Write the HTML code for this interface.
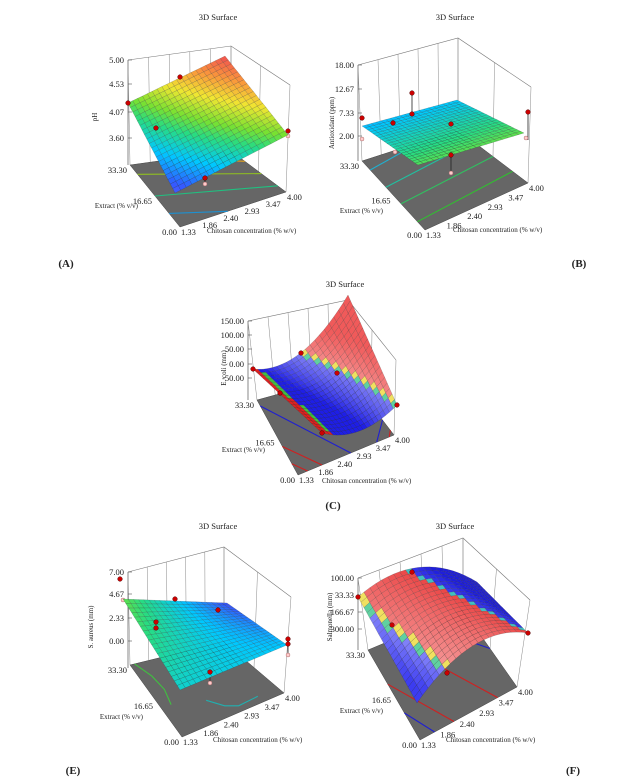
<!DOCTYPE html>
<html><head><meta charset="utf-8"><style>
html,body{margin:0;padding:0;background:#fff}
svg{display:block}
text{font-family:"Liberation Serif",serif;fill:#222}
</style></head><body>
<svg id="s" width="630" height="782" viewBox="0 0 630 782" xmlns="http://www.w3.org/2000/svg">
<text x="218" y="20" font-size="8.5" text-anchor="middle">3D Surface</text>
<text x="455" y="20" font-size="8.5" text-anchor="middle">3D Surface</text>
<text x="345" y="287" font-size="8.5" text-anchor="middle">3D Surface</text>
<text x="218" y="529" font-size="8.5" text-anchor="middle">3D Surface</text>
<text x="455" y="529" font-size="8.5" text-anchor="middle">3D Surface</text>
<text x="66" y="267" font-size="11" font-weight="bold" text-anchor="middle">(A)</text>
<text x="579" y="267" font-size="11" font-weight="bold" text-anchor="middle">(B)</text>
<text x="333" y="509" font-size="11" font-weight="bold" text-anchor="middle">(C)</text>
<text x="73" y="774" font-size="11" font-weight="bold" text-anchor="middle">(E)</text>
<text x="573" y="774" font-size="11" font-weight="bold" text-anchor="middle">(F)</text>
</svg>
<script>
var S=document.getElementById('s'),NS='http://www.w3.org/2000/svg';
function el(n,a,t){var e=document.createElementNS(NS,n);for(var k in a)e.setAttribute(k,a[k]);if(t!==undefined)e.textContent=t;S.appendChild(e);return e;}
function bil(c,s,t){var x=(1-s)*(1-t)*c.FL[0]+s*(1-t)*c.FR[0]+(1-s)*t*c.BL[0]+s*t*c.BR[0];
var y=(1-s)*(1-t)*c.FL[1]+s*(1-t)*c.FR[1]+(1-s)*t*c.BL[1]+s*t*c.BR[1];return [x,y];}
function lerp(a,b,f){return [a[0]+(b[0]-a[0])*f,a[1]+(b[1]-a[1])*f];}
var stops=[[0,[120,90,250]],[0.15,[50,90,255]],[0.3,[0,200,255]],[0.45,[40,220,130]],[0.55,[120,225,50]],[0.7,[240,230,50]],[0.85,[250,150,60]],[1,[240,80,80]]];
function cmap(v){v=Math.max(0,Math.min(1,v));for(var i=1;i<stops.length;i++){if(v<=stops[i][0]){var a=stops[i-1],b=stops[i],f=(v-a[0])/(b[0]-a[0]);
return 'rgb('+[0,1,2].map(function(k){return Math.round(a[1][k]+(b[1][k]-a[1][k])*f)}).join(',')+')';}}return 'rgb(240,80,80)';}
function P(p){return p[0].toFixed(1)+','+p[1].toFixed(1);}
var U=['1.33','1.86','2.40','2.93','3.47','4.00'],V=['0.00','16.65','33.30'];
function panel(c){
 var f=c.floor;
 var BLt=[c.ax,c.top];
 el('polyline',{points:P(BLt)+' '+P(c.BRt)+' '+P(c.FRt),fill:'none',stroke:'#777','stroke-width':0.6});
 el('line',{x1:c.ax,y1:c.top,x2:c.ax,y2:c.bot,stroke:'#555','stroke-width':0.7});
 for(var i=0;i<6;i++){var s=i/5,b=lerp(f.BL,f.BR,s),tp=lerp(BLt,c.BRt,s);el('line',{x1:b[0],y1:b[1],x2:tp[0],y2:tp[1],stroke:'#888','stroke-width':0.5});}
 for(var j=0;j<3;j++){var t=j/2,b=lerp(f.FR,f.BR,t),tp=lerp(c.FRt,c.BRt,t);el('line',{x1:b[0],y1:b[1],x2:tp[0],y2:tp[1],stroke:'#888','stroke-width':0.5});}
 c.z.forEach(function(z){el('line',{x1:c.ax,y1:z[1],x2:c.ax+4,y2:z[1],stroke:'#555','stroke-width':0.6});
  el('text',{x:c.ax-4,y:z[1]+3,'font-size':8.5,'text-anchor':'end'},z[0]);});
 el('polygon',{points:[f.FL,f.FR,f.BR,f.BL].map(P).join(' '),fill:'#666',stroke:'#444','stroke-width':0.5});
 c.cont.forEach(function(L){el('polyline',{points:L.pts.map(function(q){return P(bil(f,q[0],q[1]))}).join(' '),fill:'none',stroke:L.c,'stroke-width':1.1});});
 for(var i=0;i<6;i++){var p=lerp(f.FL,f.FR,i/5);el('text',{x:p[0]+1,y:p[1]+8,'font-size':8.5},U[i]);}
 for(var j=0;j<3;j++){var p=lerp(f.FL,f.BL,j/2);el('text',{x:p[0]-3,y:p[1]+8,'font-size':8.5,'text-anchor':'end'},V[j]);}
 el('text',{x:c.cn[0],y:c.cn[1],'font-size':7},'Chitosan concentration (% w/v)');
 el('text',{x:c.en[0],y:c.en[1],'font-size':7,'text-anchor':'end'},'Extract (% v/v)');
 el('text',{x:c.yn[0],y:c.yn[1],'font-size':7,'text-anchor':'middle',transform:'rotate(-90 '+c.yn[0]+' '+c.yn[1]+')'},c.ylab);
 (c.stems||[]).forEach(function(q){el('line',{x1:q[0],y1:q[1],x2:q[2],y2:q[3],stroke:'#222','stroke-width':0.8});});
 (c.pink||[]).forEach(function(q){el('circle',{cx:q[0],cy:q[1],r:2,fill:'#fcc',stroke:'#a66','stroke-width':0.5});});
 var N=20,sc=c.sc;
 function sp(s,t){var p=bil(sc,s,t);if(c.bulge){var d=c.bulge(s,t);p[0]+=d[0];p[1]+=d[1];}return p;}
 for(var j=N-1;j>=0;j--)for(var i=0;i<N;i++){var s0=i/N,s1=(i+1)/N,t0=j/N,t1=(j+1)/N;
  el('polygon',{points:[sp(s0,t0),sp(s1,t0),sp(s1,t1),sp(s0,t1)].map(P).join(' '),fill:c.col((s0+s1)/2,(t0+t1)/2),stroke:'rgba(40,40,40,0.45)','stroke-width':0.35});}
 (c.dots||[]).forEach(function(q){el('circle',{cx:q[0],cy:q[1],r:2.3,fill:'#c00',stroke:'#500','stroke-width':0.5});});
}
function rgb(a){return 'rgb('+a.map(Math.round).join(',')+')';}
function mix(a,b,f){return [a[0]+(b[0]-a[0])*f,a[1]+(b[1]-a[1])*f,a[2]+(b[2]-a[2])*f];}
// A
panel({floor:{FL:[180,227],FR:[286,192],BL:[130,165],BR:[231,151]},ax:128,top:60,bot:165,BRt:[231,46],FRt:[290,85],
 z:[['5.00',60],['4.53',84],['4.07',112],['3.60',138]],
 cont:[{c:'#1e90d0',pts:[[0,0.22],[0.45,0]]},{c:'#20c080',pts:[[0,0.5],[1,0.15]]},{c:'#90c020',pts:[[0,0.85],[1,0.45]]},{c:'#e0a020',pts:[[0.45,1],[1,0.75]]}],
 cn:[207,233],en:[138,208],yn:[97,117],ylab:'pH',
 sc:{FL:[175,193],FR:[288,135],BL:[128,103],BR:[225,56]},
 col:function(s,t){return cmap(0.1+0.45*s+0.42*t+0.03*s*t);},
 stems:[[205,178,205,184]],
 dots:[[128,103],[180,77],[156,128],[288,131],[205,178]],pink:[[205,184],[288,136]]});
// B
panel({floor:{FL:[425,230],FR:[528,183],BL:[362,161],BR:[458,130]},ax:358,top:65,bot:161,BRt:[458,38],FRt:[531,87],
 z:[['18.00',65],['12.67',89],['7.33',113],['2.00',136]],
 cont:[{c:'#30c030',pts:[[0,0.12],[1,0.22]]},{c:'#30c060',pts:[[0,0.38],[1,0.5]]},{c:'#20c0a0',pts:[[0,0.62],[1,0.78]]},{c:'#20b0d0',pts:[[0,0.87],[0.6,1]]}],
 cn:[453,232],en:[383,213],yn:[334,123],ylab:'Antioxidant (ppm)',
 sc:{FL:[418,165],FR:[524,133],BL:[362,126],BR:[457,100]},
 col:function(s,t){return cmap(0.5-0.22*t+0.02*s);},
 stems:[[412,93,412,114],[451,124,451,173],[528,112,528,140]],
 pink:[[362,139],[395,152],[451,173],[526,138]],
 dots:[[362,118],[393,123],[412,93],[412,114],[451,124],[451,155],[528,112]]});
// C
panel({floor:{FL:[298,475],FR:[394,435],BL:[257,400],BR:[348,375]},ax:248,top:321,bot:400,BRt:[348,300],FRt:[396,360],
 z:[['150.00',321],['100.00',335],['50.00',349],['0.00',364],['-50.00',378]],
 cont:[{c:'#d02020',pts:[[0,0.15],[0.1,0]]},{c:'#d02020',pts:[[0,0.38],[0.25,0]]},{c:'#2020d0',pts:[[0,0.92],[0.55,0]]},{c:'#2020d0',pts:[[0.82,0],[1,0.25]]},{c:'#d02020',pts:[[0.95,0],[1,0.08]]}],
 cn:[322,483],en:[265,452],yn:[226,368],ylab:'E. coli (mm)',
 sc:{FL:[322,433],FR:[397,405],BL:[253,369],BR:[348,295]},
 bulge:function(s,t){return [0,4*s*(1-s)*(21*t+12*(1-t))];},
 col:function(s,t){ var w=0.03+0.1*(1-t); if(s<w) return '#e02020'; if(s<w+0.04) return '#40c040';
   var d=t-2*(1-s);
   if(d>0.06) return rgb(mix([240,90,90],[245,140,140],Math.max(0,1-d*2)));
   if(d>0.02) return '#f0e060'; if(d>-0.03) return '#60d0a0';
   return rgb(mix([30,30,230],[130,130,245],Math.max(0,1+d*1.2)));},
 dots:[[253,369],[301,353],[337,373],[397,405],[322,433],[280,393]]});
// E
panel({floor:{FL:[182,737],FR:[284,693],BL:[130,665],BR:[224,642]},ax:128,top:572,bot:668,BRt:[224,547],FRt:[291,597],
 z:[['7.00',572],['4.67',594],['2.33',618],['0.00',641]],
 cont:[{c:'#40c040',pts:[[0.05,1],[0.12,0.8],[0.14,0.6],[0.1,0.4]]},{c:'#20b0b0',pts:[[0.4,0.3],[0.5,0.15],[0.6,0.08],[0.8,0.1]]},{c:'#3060d0',pts:[[0.75,0.85],[0.9,0.8]]}],
 cn:[213,742],en:[143,719],yn:[93,627],ylab:'S. aureus (mm)',
 sc:{FL:[180,690],FR:[287,645],BL:[123,599],BR:[227,603]},
 col:function(s,t){return cmap(0.36+0.16*t-0.06*s-0.34*s*t);},
 stems:[[210,672,210,683],[288,644,288,655]],
 pink:[[123,600],[210,683],[288,655]],
 dots:[[120,579],[175,599],[156,622],[156,628],[218,610],[288,639],[288,644],[210,672]]});
// F
panel({floor:{FL:[420,740],FR:[517,687],BL:[368,650],BR:[463,610]},ax:358,top:578,bot:650,BRt:[463,538],FRt:[530,600],
 z:[['100.00',578],['33.33',595],['166.67',612],['300.00',629]],
 cont:[{c:'#2020d0',pts:[[0,0.3],[0.15,0]]},{c:'#d02020',pts:[[0,0.62],[0.35,0]]},{c:'#d02020',pts:[[0.25,1],[0.8,0]]},{c:'#2020d0',pts:[[0.6,1],[1,0.5]]},{c:'#d02020',pts:[[0.85,1],[1,0.8]]}],
 cn:[446,742],en:[383,713],yn:[332,617],ylab:'Salmonella (mm)',
 sc:{FL:[417,703],FR:[528,633],BL:[358,597],BR:[477,582]},
 bulge:function(s,t){return [0,-22*4*s*(1-s)];},
 col:function(s,t){var d1=0.27*(1-t)-s,d2=t-(1-s)/0.6;
   if(d1>0.03) return rgb(mix([60,60,240],[140,140,250],Math.max(0,1-d1*5)));
   if(d1>-0.02) return d1>0.005?'#60d0a0':'#f0e060';
   if(d2>0.04) return rgb(mix([60,60,240],[30,30,220],Math.min(1,d2*3)));
   if(d2>-0.01) return '#40c0c0';
   return rgb(mix([235,70,70],[245,150,150],Math.min(1,Math.max(0,(-d2)*0.8))));},
 dots:[[358,597],[412,572],[392,625],[447,673],[528,633]]});
</script>
</body></html>
